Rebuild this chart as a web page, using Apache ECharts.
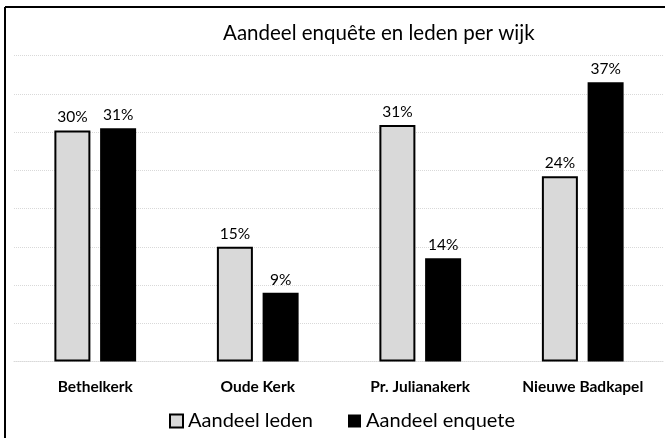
<!DOCTYPE html>
<html>
	<head>
		<meta charset="UTF-8">
		<title></title>
		<style>body{margin:0;background:#fff;}</style>
	</head>
	<body style="height: 100%; margin: 0">
		<div id="container" style="width: 665px; height: 438px"></div>
		<script src="https://cdn.jsdelivr.net/npm/echarts@6/dist/echarts.min.js" type="text/javascript" charset="utf-8"></script>
		<script type="text/javascript">
			// wijken en aandelen (in %)
			var wijken = ['Bethelkerk', 'Oude Kerk', 'Pr. Julianakerk', 'Nieuwe Badkapel'];
			var aandeelLeden = [30.2, 15.0, 30.9, 24.2];
			var aandeelEnquete = [30.5, 9.0, 13.5, 36.5];
			var seriesNamen = ['Aandeel leden', 'Aandeel enquete'];

			var dom = document.getElementById("container");
			var myChart = echarts.init(dom);
			var font = 'Lato';

			var labelOpt = {
				show: true,
				position: 'top',
				distance: 5,
				color: '#000',
				fontFamily: font,
				fontSize: 15.5,
				formatter: function (p) {
					return Math.round(p.value) + '%';
				}
			};

			var option = {
				animation: false,
				title: {
					text: 'Aandeel enquête en leden per wijk',
					left: 218,
					top: 18,
					textStyle: {
						fontFamily: font,
						fontWeight: 'normal',
						fontSize: 20.5,
						color: '#000'
					}
				},
				legend: {
					data: seriesNamen,
					left: 164,
					top: 406,
					icon: 'rect',
					itemWidth: 13,
					itemHeight: 13,
					itemGap: 35,
					textStyle: {
						fontFamily: font,
						fontSize: 20,
						color: '#000'
					}
				},
				graphic: [
					{ type: 'line', shape: { x1: 5, y1: 7, x2: 665, y2: 7 }, style: { stroke: '#000', lineWidth: 2 } },
					{ type: 'line', shape: { x1: 5, y1: 7, x2: 5, y2: 438 }, style: { stroke: '#000', lineWidth: 2 } }
				],
				grid: {
					left: 14,
					right: 1,
					top: 55.5,
					bottom: 76.5
				},
				xAxis: {
					type: 'category',
					data: wijken,
					axisTick: { show: false },
					axisLine: { lineStyle: { color: '#d9d9d9', type: 'dotted' } },
					axisLabel: {
						color: '#000',
						fontFamily: font,
						fontWeight: 'bold',
						fontSize: 15.5,
						margin: 17
					}
				},
				yAxis: {
					type: 'value',
					min: 0,
					max: 40,
					interval: 5,
					axisLabel: { show: false },
					axisLine: { show: false },
					axisTick: { show: false },
					splitLine: { lineStyle: { color: '#d9d9d9', type: 'dotted' } }
				},
				series: [
					{
						name: seriesNamen[0],
						type: 'bar',
						data: aandeelLeden,
						barWidth: 36,
						barGap: '27%',
						itemStyle: { color: '#d9d9d9', borderColor: '#000', borderWidth: 2 },
						label: labelOpt
					},
					{
						name: seriesNamen[1],
						type: 'bar',
						data: aandeelEnquete,
						barWidth: 36,
						itemStyle: { color: '#000' },
						label: labelOpt
					}
				]
			};

			myChart.setOption(option);
		</script>
	</body>
</html>
